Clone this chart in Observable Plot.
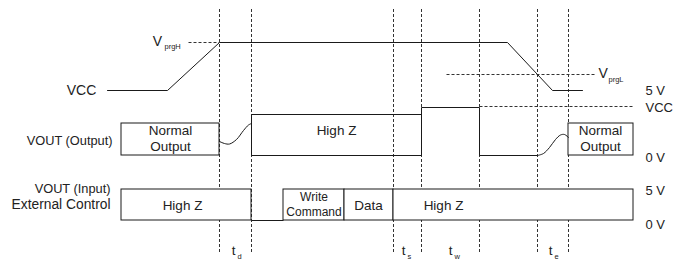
<!DOCTYPE html>
<html>
<head>
<meta charset="utf-8">
<script src="https://cdn.jsdelivr.net/npm/d3@7"></script>
<script src="https://cdn.jsdelivr.net/npm/@observablehq/plot@0.6"></script>
<style>
  html, body { margin: 0; padding: 0; background: #fff; }
  #chart svg { display: block; }
</style>
</head>
<body>
<div id="chart"></div>
<script>
// Timing events (time axis units) and signal levels (level axis units, top = 0)
const markerTimes = [219, 251, 393, 421, 479, 537, 568];
const timeLabels = ["d", "s", "w", "e"];
const timeLabelTimes = [233, 403, 450, 550];

// VCC waveform
const vccT = [107, 167, 219, 507, 552, 582];
const vccL = [90, 90, 42, 42, 90, 90];
const vprgHT = [188, 219], vprgHL = 42;
const vprgLT = [446, 595], vprgLL = 74;

// VOUT (Output) row levels
const outHiZTop = 114, outVcc = 107, outTop = 123, out0 = 155;
const outBoxes = [[121, 219], [568, 633]];
const tdCurveT = [219, 224, 229, 236, 243, 248, 251];
const tdCurveL = [141, 143, 143.5, 139, 130, 124.5, 123];
const teCurveT = [537, 543, 549, 555, 560, 564, 568];
const teCurveL = [155, 153, 147, 139, 134.5, 134, 137];

// VOUT (Input) row
const in5 = 189, in0 = 220;
const inBoxes = [[121, 251], [283, 344], [344, 393], [393, 633]];
const inBoxLabels = [["High Z"], ["Write", "Command"], ["Data"], ["High Z"]];
const inLabelT = [182, 313.5, 368, 443];

const W = 675, H = 262;
const x = {domain: [0, W], range: [0, W]};
const y = {domain: [0, H], range: [0, H]};

const ln = "#1a1a1a";
const dash = "#333";
const txt = "#222";
const font = "Liberation Sans, Arial, sans-serif";

const pts = (ts, ls) => ts.map((t, i) => ({t, l: ls[i]}));

const segs = [
  {t1: 251, l1: outHiZTop, t2: 421, l2: outHiZTop},
  {t1: 251, l1: out0, t2: 421, l2: out0},
  {t1: 251, l1: outHiZTop, t2: 251, l2: out0},
  {t1: 421, l1: outVcc, t2: 421, l2: out0},
  {t1: 421, l1: outVcc, t2: 479, l2: outVcc},
  {t1: 479, l1: outVcc, t2: 479, l2: out0},
  {t1: 479, l1: out0, t2: 537, l2: out0},
  {t1: 251, l1: in0, t2: 283, l2: in0}
];

const dashSegs = [
  {t1: vprgHT[0], l1: vprgHL, t2: vprgHT[1], l2: vprgHL},
  {t1: vprgLT[0], l1: vprgLL, t2: vprgLT[1], l2: vprgLL},
  {t1: 479, l1: 106, t2: 633, l2: 106}
];

const midTexts = [
  {t: 81, l: 90, s: "VCC", f: 14},
  {t: 157, l: 41, s: "V", f: 14},
  {t: 170, l: 130, s: "Normal", f: 13.5},
  {t: 170, l: 146, s: "Output", f: 13.5},
  {t: 600, l: 130, s: "Normal", f: 13.5},
  {t: 600, l: 146, s: "Output", f: 13.5},
  {t: 336, l: 130, s: "High Z", f: 13.5}
];
const startTexts = [
  {t: 598, l: 73, s: "V", f: 14},
  {t: 645, l: 90, s: "5 V", f: 13},
  {t: 645, l: 107, s: "VCC", f: 13},
  {t: 645, l: 157, s: "0 V", f: 13},
  {t: 645, l: 190, s: "5 V", f: 13},
  {t: 645, l: 224, s: "0 V", f: 13}
];
const endTexts = [
  {t: 112, l: 140, s: "VOUT (Output)", f: 12.8},
  {t: 110, l: 188, s: "VOUT (Input)", f: 12.8},
  {t: 110, l: 204, s: "External Control", f: 13.8}
];
const subs = [
  {t: 164, l: 46, s: "prgH"},
  {t: 608, l: 79, s: "prgL"}
];

const inTexts = [];
inBoxLabels.forEach((lines, i) => {
  if (lines.length === 1) inTexts.push({t: inLabelT[i], l: 205, s: lines[0], f: 13.5});
  else {
    inTexts.push({t: inLabelT[i], l: 197, s: lines[0], f: 12});
    inTexts.push({t: inLabelT[i], l: 212, s: lines[1], f: 12});
  }
});

const tl = timeLabelTimes.map((t, i) => ({t, s: timeLabels[i]}));

const chart = Plot.plot({
  width: W, height: H,
  margin: 0,
  x, y,
  axis: null,
  style: {fontFamily: font, background: "#fff"},
  marks: [
    Plot.ruleX(markerTimes, {x: d => d, y1: 9, y2: 253, stroke: dash, strokeDasharray: "3,2", strokeWidth: 1}),
    Plot.link(dashSegs, {x1: "t1", y1: "l1", x2: "t2", y2: "l2", stroke: dash, strokeDasharray: "3,2", strokeWidth: 1}),
    Plot.line(pts(vccT, vccL), {x: "t", y: "l", stroke: ln, strokeWidth: 1}),
    Plot.rect(outBoxes, {x1: d => d[0], x2: d => d[1], y1: outTop, y2: out0, fill: "white", stroke: ln, strokeWidth: 1, inset: 0}),
    Plot.rect(inBoxes, {x1: d => d[0], x2: d => d[1], y1: in5, y2: in0, fill: "white", stroke: ln, strokeWidth: 1, inset: 0}),
    Plot.link(segs, {x1: "t1", y1: "l1", x2: "t2", y2: "l2", stroke: ln, strokeWidth: 1}),
    Plot.line(pts(tdCurveT, tdCurveL), {x: "t", y: "l", stroke: ln, strokeWidth: 1, curve: "catmull-rom"}),
    Plot.line(pts(teCurveT, teCurveL), {x: "t", y: "l", stroke: ln, strokeWidth: 1, curve: "catmull-rom"}),
    Plot.text(midTexts, {x: "t", y: "l", text: "s", textAnchor: "middle", fontSize: d => d.f, fill: txt, lineAnchor: "middle"}),
    Plot.text(startTexts, {x: "t", y: "l", text: "s", textAnchor: "start", fontSize: d => d.f, fill: txt, lineAnchor: "middle"}),
    Plot.text(endTexts, {x: "t", y: "l", text: "s", textAnchor: "end", fontSize: d => d.f, fill: txt, lineAnchor: "middle"}),
    Plot.text(subs, {x: "t", y: "l", text: "s", textAnchor: "start", fontSize: 7.5, fill: txt, lineAnchor: "middle"}),
    Plot.text(inTexts, {x: "t", y: "l", text: "s", fontSize: d => d.f, fill: txt, lineAnchor: "middle"}),
    Plot.text(tl, {x: "t", y: 250, text: () => "t", fontSize: 13.5, fill: txt, lineAnchor: "middle"}),
    Plot.text(tl, {x: d => d.t + 4, y: 256, text: "s", fontSize: 7.5, fill: txt, textAnchor: "start", lineAnchor: "middle"})
  ]
});
document.getElementById("chart").appendChild(chart);
</script>
</body>
</html>
